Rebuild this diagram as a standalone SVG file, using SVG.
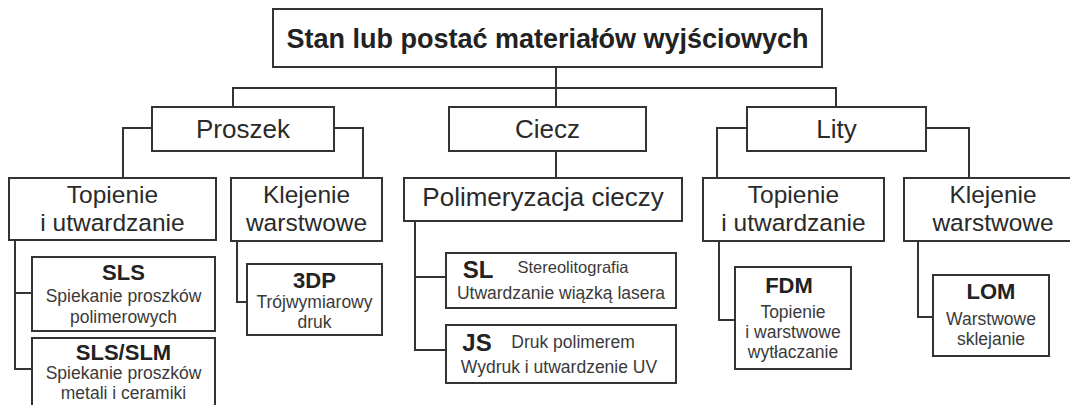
<svg xmlns="http://www.w3.org/2000/svg" width="1070" height="405" viewBox="0 0 1070 405">
<style>
rect{fill:#fff;stroke:#333;stroke-width:2}
.c path{fill:none;stroke:#333;stroke-width:2}
text{font-family:"Liberation Sans",Arial,sans-serif;text-anchor:middle;fill:#222}
.t{font-size:27px;font-weight:bold}
.l2{font-size:26px;fill:#2a2a2a}
.l3{font-size:24.5px;fill:#2a2a2a}
.lb{font-size:22px;font-weight:bold}
.lb2{font-size:24px;font-weight:bold}
.s{font-size:17.5px;fill:#3a3a3a}
</style>
<rect x="0" y="0" width="1070" height="405" style="fill:#fff;stroke:none"/>
<g class="c" id="connectors">
<path d="M556 67V107M233 107V88H836V107"/>
<path d="M152 128H123V178M334 128H363V178"/>
<path d="M556 151V178"/>
<path d="M747 128H717V178M926 128H969V178"/>
<path d="M15 240V369H32M15 293H32"/>
<path d="M237 241V302H247"/>
<path d="M415 221V350H446M415 277H446"/>
<path d="M719 241V320H735"/>
<path d="M918 241V317H933"/>
</g>
<g id="root"><rect x="273" y="9" width="549" height="58"/><text class="t" x="547.5" y="48">Stan lub postać materiałów wyjściowych</text></g>
<g id="proszek"><rect x="152" y="107" width="182" height="44"/><text class="l2" x="243" y="138">Proszek</text></g>
<g id="ciecz"><rect x="449" y="107" width="197" height="44"/><text class="l2" x="547.5" y="138">Ciecz</text></g>
<g id="lity"><rect x="747" y="107" width="179" height="44"/><text class="l2" x="836.5" y="138">Lity</text></g>
<g id="topienie1"><rect x="9" y="178" width="207" height="62"/><text class="l3" x="112.5" y="203">Topienie</text><text class="l3" x="112.5" y="231">i utwardzanie</text></g>
<g id="klejenie1"><rect x="231" y="178" width="151" height="63"/><text class="l3" x="306.5" y="203">Klejenie</text><text class="l3" x="306.5" y="231">warstwowe</text></g>
<g id="polimeryzacja"><rect x="404" y="178" width="278" height="43"/><text class="l2" x="543" y="206">Polimeryzacja cieczy</text></g>
<g id="topienie2"><rect x="703" y="178" width="181" height="63"/><text class="l3" x="793.5" y="203">Topienie</text><text class="l3" x="793.5" y="231">i utwardzanie</text></g>
<g id="klejenie2"><rect x="904" y="178" width="178" height="63"/><text class="l3" x="993" y="203">Klejenie</text><text class="l3" x="993" y="231">warstwowe</text></g>
<g id="sls"><rect x="32" y="257" width="183" height="74"/><text class="lb" x="123.5" y="280">SLS</text><text class="s" x="123.5" y="302">Spiekanie proszków</text><text class="s" x="123.5" y="323">polimerowych</text></g>
<g id="slsslm"><rect x="32" y="338" width="183" height="80"/><text class="lb" x="123.5" y="360">SLS/SLM</text><text class="s" x="123.5" y="379">Spiekanie proszków</text><text class="s" x="123.5" y="399">metali i ceramiki</text></g>
<g id="dp3"><rect x="247" y="264" width="135" height="71"/><text class="lb" x="314.5" y="288">3DP</text><text class="s" x="314.5" y="308">Trójwymiarowy</text><text class="s" x="314.5" y="328">druk</text></g>
<g id="sl"><rect x="446" y="253" width="230" height="55"/><text class="lb2" x="478" y="278">SL</text><text class="s" x="573" y="273" style="font-size:16.5px">Stereolitografia</text><text class="s" x="561" y="299">Utwardzanie wiązką lasera</text></g>
<g id="js"><rect x="446" y="325" width="230" height="58"/><text class="lb2" x="477" y="351">JS</text><text class="s" x="573" y="348">Druk polimerem</text><text class="s" x="559" y="373">Wydruk i utwardzenie UV</text></g>
<g id="fdm"><rect x="735" y="267" width="116" height="102"/><text class="lb" x="789" y="293">FDM</text><text class="s" x="793" y="318">Topienie</text><text class="s" x="793" y="338">i warstwowe</text><text class="s" x="793" y="358">wytłaczanie</text></g>
<g id="lom"><rect x="933" y="275" width="116" height="81"/><text class="lb" x="991" y="299">LOM</text><text class="s" x="991" y="325">Warstwowe</text><text class="s" x="991" y="345">sklejanie</text></g>
</svg>
